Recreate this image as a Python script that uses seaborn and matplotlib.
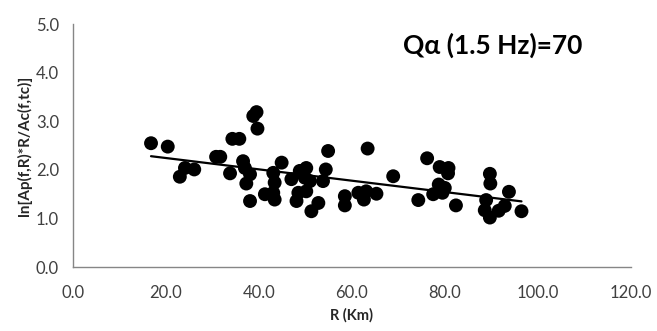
"""Attenuation scatter: ln[Ap(f,R)*R/Ac(f,tc)] against distance R, with linear fit."""

import matplotlib.pyplot as plt
import pandas as pd
import seaborn as sns
from matplotlib.ticker import MultipleLocator, FormatStrFormatter

# hypocentral distance (km)
R_KM = [
    16.8, 20.4, 23.0, 24.1, 26.1, 30.8, 31.7, 34.3, 35.8, 33.8,
    36.6, 37.0, 38.1, 37.3, 38.1, 38.8, 39.5, 39.7, 41.3, 44.9,
    43.1, 43.4, 43.4, 43.1, 47.0, 48.8, 50.2, 49.9, 51.0, 48.5,
    50.2, 48.1, 52.8, 51.3, 54.9, 54.4, 53.8, 58.5, 58.5, 61.4,
    63.1, 62.6, 65.3, 63.4, 68.9, 74.3, 76.2, 78.9, 80.8, 80.7,
    78.7, 77.5, 79.5, 80.0, 82.4, 89.7, 89.8, 88.9, 88.6, 89.7,
    91.6, 92.9, 93.8, 96.5,
]
# ln[Ap(f,R)*R/Ac(f,tc)]
LN_RATIO = [
    2.55, 2.48, 1.86, 2.04, 2.01, 2.27, 2.27, 2.64, 2.64, 1.93,
    2.18, 2.04, 1.91, 1.72, 1.36, 3.11, 3.19, 2.85, 1.50, 2.15,
    1.94, 1.74, 1.39, 1.53, 1.81, 1.98, 2.04, 1.84, 1.77, 1.53,
    1.56, 1.36, 1.32, 1.15, 2.39, 2.01, 1.77, 1.46, 1.27, 1.53,
    1.56, 1.39, 1.51, 2.44, 1.87, 1.38, 2.24, 2.06, 2.04, 1.93,
    1.70, 1.50, 1.53, 1.63, 1.27, 1.92, 1.72, 1.38, 1.17, 1.02,
    1.16, 1.26, 1.55, 1.15,
]
LABEL = "Q\u03b1 (1.5 Hz)=70"

df = pd.DataFrame({"R": R_KM, "ln": LN_RATIO})

sns.set_style("white")
plt.rcParams["font.family"] = ["Lato", "DejaVu Sans"]

fig, ax = plt.subplots(figsize=(6.57, 3.31), dpi=100)
fig.subplots_adjust(left=0.111, right=0.960, bottom=0.193, top=0.927)

sns.scatterplot(data=df, x="R", y="ln", color="black", s=100,
                edgecolor="none", ax=ax, zorder=3)
sns.regplot(data=df, x="R", y="ln", scatter=False, ci=None, truncate=True,
            color="black", line_kws={"lw": 1.6}, ax=ax)

ax.set_xlim(0, 120)
ax.set_ylim(0, 5)
ax.xaxis.set_major_locator(MultipleLocator(20))
ax.xaxis.set_minor_locator(MultipleLocator(4))
ax.yaxis.set_major_locator(MultipleLocator(1))
ax.yaxis.set_minor_locator(MultipleLocator(0.2))
ax.xaxis.set_major_formatter(FormatStrFormatter("%.1f"))
ax.yaxis.set_major_formatter(FormatStrFormatter("%.1f"))

gray = "#868686"
for side in ["top", "right"]:
    ax.spines[side].set_visible(False)
for side in ["left", "bottom"]:
    ax.spines[side].set_color(gray)
    ax.spines[side].set_linewidth(1.0)

ax.tick_params(which="major", direction="inout", length=8, width=1,
               color=gray, labelsize=12, labelcolor="#404040")
ax.tick_params(which="minor", direction="out", length=4, width=1, color=gray)
ax.tick_params(axis="x", which="major", pad=9)
ax.tick_params(axis="y", which="major", pad=6)

ax.set_xlabel("R (Km)", fontsize=10.5, fontweight="bold", color="#262626",
              labelpad=5)
ax.set_ylabel("ln[Ap(f,R)*R/Ac(f,tc)]", fontsize=11, fontweight="bold",
              color="#262626", labelpad=3)

ax.text(71, 4.57, LABEL, fontsize=19, fontweight="bold", va="center",
        ha="left", color="black")

fig.savefig("out.png", dpi=100)
